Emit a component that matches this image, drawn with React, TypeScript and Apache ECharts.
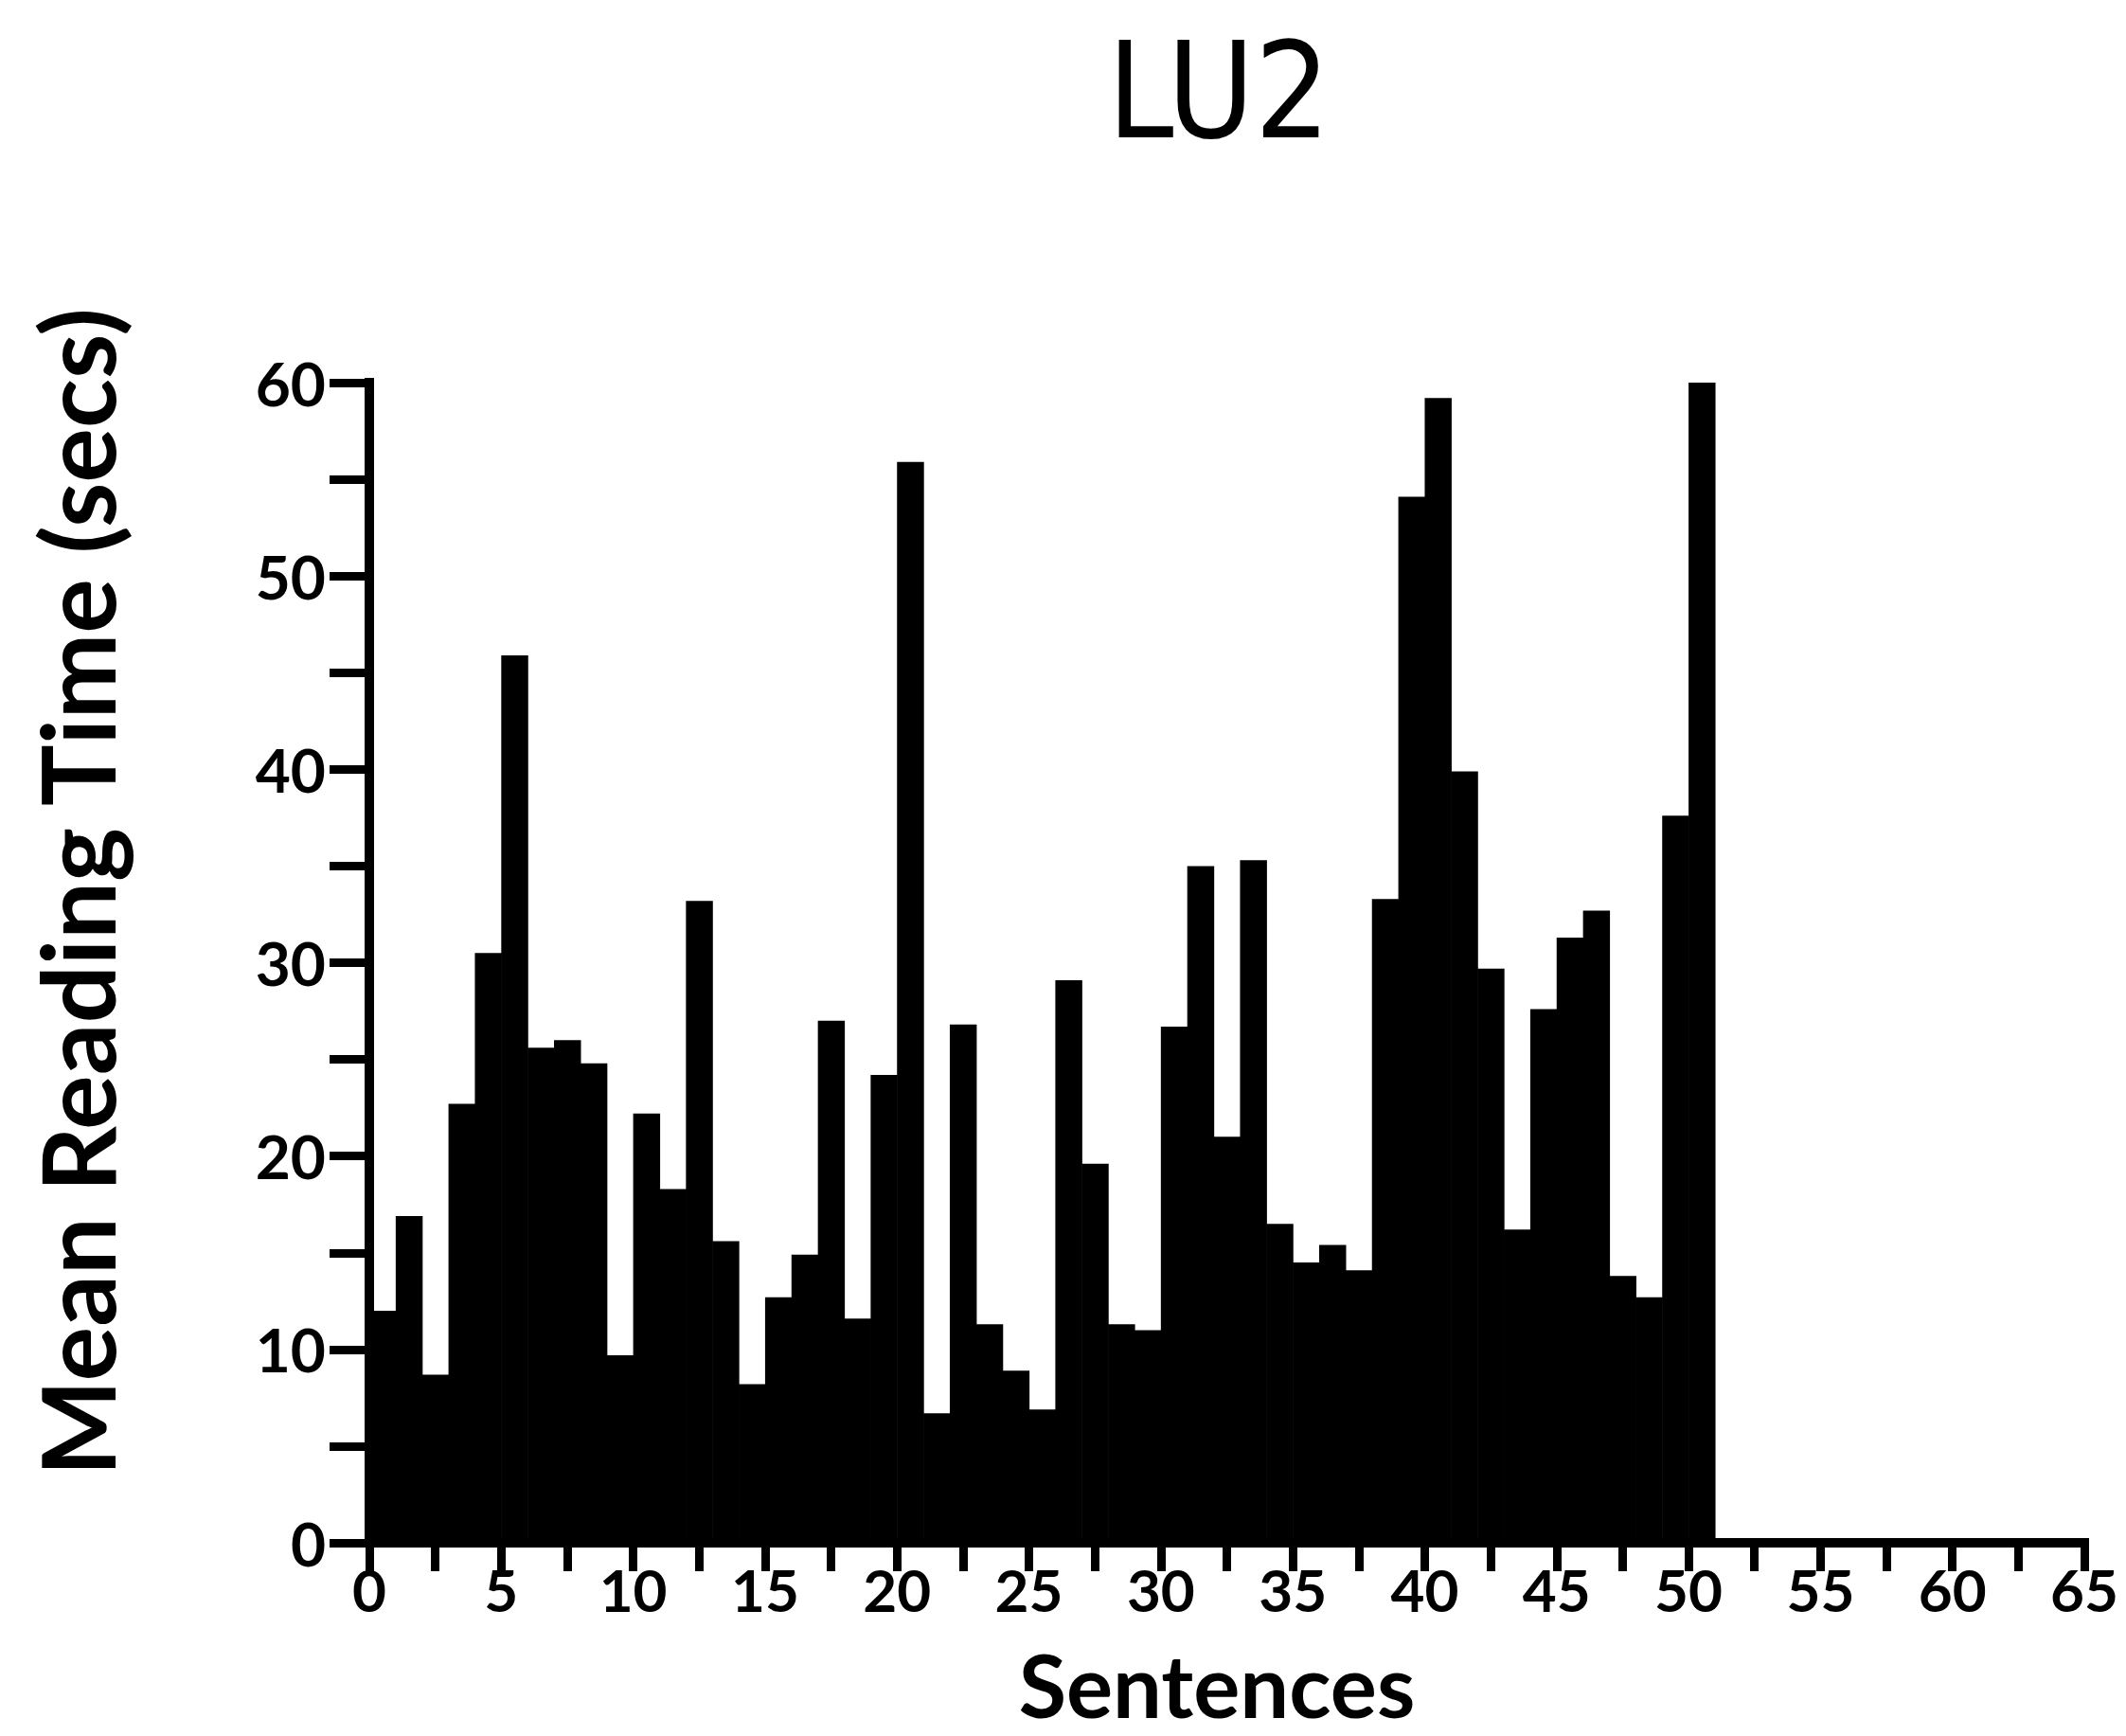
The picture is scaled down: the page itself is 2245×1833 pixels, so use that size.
import React, { useEffect, useRef } from "react";
import * as echarts from "echarts";

// Sentence numbers (each bar spans [n-1, n] on the x axis)
const sentences = [
  1, 2, 3, 4, 5, 6, 7, 8, 9, 10,
  11, 12, 13, 14, 15, 16, 17, 18, 19, 20,
  21, 22, 23, 24, 25, 26, 27, 28, 29, 30,
  31, 32, 33, 34, 35, 36, 37, 38, 39, 40,
  41, 42, 43, 44, 45, 46, 47, 48, 49, 50,
  51,
];

// Mean reading time (secs) per sentence
const readingTimes = [
  12.0, 16.9, 8.7, 22.7, 30.5, 45.9, 25.6, 26.0, 24.8, 9.7,
  22.2, 18.3, 33.2, 15.6, 8.2, 12.7, 14.9, 27.0, 11.6, 24.2,
  55.9, 6.7, 26.8, 11.3, 8.9, 6.9, 29.1, 19.6, 11.3, 11.0,
  26.7, 35.0, 21.0, 35.3, 16.5, 14.5, 15.4, 14.1, 33.3, 54.1,
  59.2, 39.9, 29.7, 16.2, 27.6, 31.3, 32.7, 13.8, 12.7, 37.6,
  60.0,
];

const titleText = "LU2";
const xAxisTitle = "Sentences";
const yAxisTitle = "Mean Reading Time (secs)";

const X_MIN = 0;
const X_MAX = 65;
const X_TICK = 2.5;
const X_LABEL_STEP = 5;
const Y_MIN = 0;
const Y_MAX = 60;
const Y_TICK = 5;
const Y_LABEL_STEP = 10;

const labelFont = "Lato, 'DejaVu Sans', sans-serif";
const titleFont = "'Liberation Sans Narrow', 'DejaVu Sans Condensed', 'Liberation Sans', sans-serif";

export default function App() {
  const ref = useRef<HTMLDivElement>(null);

  useEffect(() => {
    if (!ref.current) return;
    const chart = echarts.init(ref.current, null, { renderer: "svg" });
    const data = sentences.map((s, i) => [s, readingTimes[i]]);

    chart.setOption({
      animation: false,
      backgroundColor: "#ffffff",
      grid: { left: 390, right: 44, top: 404, bottom: 204, containLabel: false },
      xAxis: {
        type: "value",
        min: X_MIN,
        max: X_MAX,
        interval: X_TICK,
        axisLine: { show: true, lineStyle: { color: "#000", width: 10, cap: "square" } },
        axisTick: { show: true, length: 30, lineStyle: { color: "#000", width: 9 } },
        axisLabel: {
          margin: 18,
          color: "#000",
          fontFamily: labelFont,
          fontWeight: "bold",
          fontSize: 62,
          formatter: (v: number) => (Math.abs(v % X_LABEL_STEP) < 1e-6 ? String(v) : ""),
        },
        splitLine: { show: false },
      },
      yAxis: {
        type: "value",
        min: Y_MIN,
        max: Y_MAX,
        interval: Y_TICK,
        axisLine: { show: true, lineStyle: { color: "#000", width: 10, cap: "square" } },
        axisTick: { show: true, length: 42, lineStyle: { color: "#000", width: 9 } },
        axisLabel: {
          margin: 46,
          color: "#000",
          fontFamily: labelFont,
          fontWeight: "bold",
          fontSize: 64,
          formatter: (v: number) => (Math.abs(v % Y_LABEL_STEP) < 1e-6 ? String(v) : ""),
        },
        splitLine: { show: false },
      },
      series: [
        {
          type: "custom",
          data,
          encode: { x: 0, y: 1 },
          renderItem: (params: any, api: any) => {
            const s = api.value(0);
            const v = api.value(1);
            const p0 = api.coord([s - 1, v]);
            const p1 = api.coord([s, 0]);
            return {
              type: "rect",
              shape: {
                x: p0[0],
                y: p0[1],
                width: p1[0] - p0[0] + 0.6,
                height: p1[1] - p0[1],
              },
              style: { fill: "#000" },
            };
          },
        },
      ],
      graphic: [
        {
          type: "text",
          x: 1287,
          y: 96,
          style: {
            text: titleText,
            fill: "#000",
            font: `normal 140px ${titleFont}`,
            textAlign: "center",
            textVerticalAlign: "middle",
          },
        },
        {
          type: "text",
          x: 1285,
          y: 1778,
          style: {
            text: xAxisTitle,
            fill: "#000",
            font: `bold 92px ${labelFont}`,
            textAlign: "center",
            textVerticalAlign: "middle",
          },
        },
        {
          type: "text",
          x: 80,
          y: 942,
          rotation: Math.PI / 2,
          style: {
            text: yAxisTitle,
            fill: "#000",
            font: `bold 108px ${labelFont}`,
            textAlign: "center",
            textVerticalAlign: "middle",
          },
        },
      ],
    });

    return () => chart.dispose();
  }, []);

  return (
    <div
      ref={ref}
      style={{ position: "fixed", left: 0, top: 0, width: 2245, height: 1833, background: "#fff" }}
    />
  );
}
